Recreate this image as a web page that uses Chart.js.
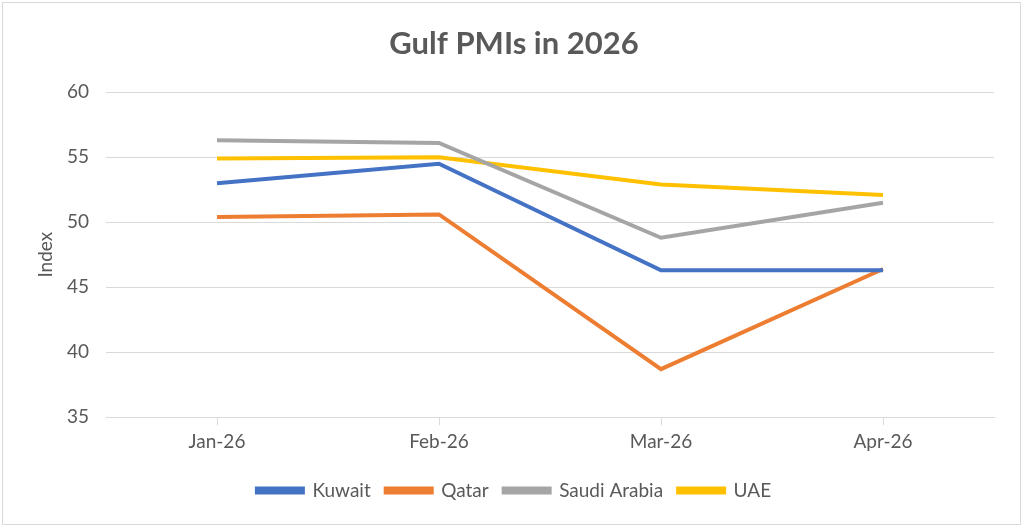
<!DOCTYPE html>
<html>
<head>
<meta charset="utf-8">
<script src="https://cdn.jsdelivr.net/npm/chart.js@4"></script>
<style>
  html, body { margin: 0; padding: 0; background: #fff; }
  #wrap { width: 1024px; height: 528px; }
</style>
</head>
<body>
<div id="wrap"><canvas id="chart"></canvas></div>
<script>
const months = ["Jan-26", "Feb-26", "Mar-26", "Apr-26"];
const kuwait = [53.0, 54.5, 46.3, 46.3];
const qatar = [50.4, 50.6, 38.7, 46.4];
const saudiArabia = [56.3, 56.1, 48.8, 51.5];
const uae = [54.9, 55.0, 52.9, 52.1];

const grey = "#595959";
Chart.defaults.font.family = "Lato, 'Open Sans', sans-serif";
Chart.defaults.color = grey;

// white background + thin frame round the whole chart
const frame = {
  id: "frame",
  beforeDraw(chart) {
    const ctx = chart.ctx;
    ctx.save();
    ctx.fillStyle = "#fff";
    ctx.fillRect(0, 0, chart.width, chart.height);
    ctx.strokeStyle = "#d9d9d9";
    ctx.lineWidth = 1;
    ctx.strokeRect(2.5, 2.5, chart.width - 6, chart.height - 6);
    ctx.restore();
  }
};

const line = (label, data, color) => ({
  label, data,
  borderColor: color,
  backgroundColor: color,
  borderWidth: 4,
  pointRadius: 0,
  tension: 0,
});

new Chart(document.getElementById("chart"), {
  type: "line",
  data: {
    labels: months,
    datasets: [
      line("Kuwait", kuwait, "#4472C4"),
      line("Qatar", qatar, "#ED7D31"),
      line("Saudi Arabia", saudiArabia, "#A5A5A5"),
      line("UAE", uae, "#FFC000"),
    ],
  },
  options: {
    responsive: true,
    maintainAspectRatio: false,
    animation: false,
    layout: { padding: { left: 34, right: 30, top: 0, bottom: 18 } },
    plugins: {
      title: {
        display: true,
        text: "Gulf PMIs in 2026",
        color: grey,
        font: { size: 31, weight: "bold" },
        padding: { top: 25, bottom: 30 },
      },
      legend: {
        position: "bottom",
        labels: {
          color: grey,
          font: { size: 19 },
          boxWidth: 46,
          boxHeight: 4,
          padding: 15,
        },
      },
      tooltip: { enabled: false },
    },
    scales: {
      x: {
        offset: true,
        grid: { drawOnChartArea: false, drawTicks: true, tickLength: 8, color: "#d9d9d9" },
        border: { display: true, color: "#d9d9d9" },
        ticks: { color: grey, font: { size: 19 }, padding: 5 },
        afterFit(scale) { scale.height += 8; },
      },
      y: {
        min: 35,
        max: 60,
        ticks: { stepSize: 5, color: grey, font: { size: 19 }, padding: 17 },
        grid: { color: "#d9d9d9", drawTicks: false },
        border: { display: false },
        title: { display: true, text: "Index", color: grey, font: { size: 19 }, padding: 0 },
        afterFit(scale) { scale.width = 72; },
      },
    },
  },
  plugins: [frame],
});
</script>
</body>
</html>
